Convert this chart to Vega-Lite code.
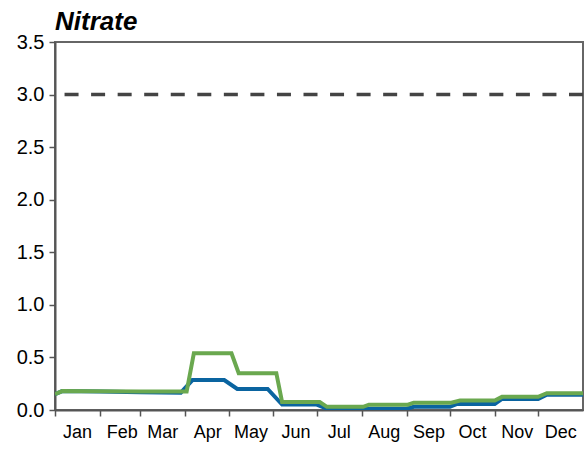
{
  "$schema": "https://vega.github.io/schema/vega-lite/v6.json",
  "autosize": {"type": "none"},
  "padding": {"left": 55, "top": 42, "right": 2, "bottom": 39},
  "width": 528,
  "height": 368,
  "background": "white",
  "config": {
    "font": "Liberation Sans",
    "view": {"stroke": "#666666", "strokeWidth": 2},
    "axis": {"grid": false, "domainColor": "#555555", "domainWidth": 2, "tickColor": "#555555", "tickWidth": 1.5, "labelColor": "#000000", "labelFont": "Liberation Sans", "title": null}
  },
  "title": {
    "text": "Nitrate",
    "anchor": "start",
    "frame": "group",
    "font": "Liberation Sans",
    "fontSize": 26,
    "fontWeight": "bold",
    "fontStyle": "italic",
    "color": "#000000",
    "offset": -3,
    "dx": 0
  },
  "datasets": {
    "series": [
      {"date": "2023-01-01", "series": "A", "value": 0.15},
      {"date": "2023-01-06", "series": "A", "value": 0.18},
      {"date": "2023-02-01", "series": "A", "value": 0.175},
      {"date": "2023-03-01", "series": "A", "value": 0.168},
      {"date": "2023-03-29", "series": "A", "value": 0.165},
      {"date": "2023-04-06", "series": "A", "value": 0.285},
      {"date": "2023-04-28", "series": "A", "value": 0.285},
      {"date": "2023-05-07", "series": "A", "value": 0.2},
      {"date": "2023-05-28", "series": "A", "value": 0.2},
      {"date": "2023-06-07", "series": "A", "value": 0.052},
      {"date": "2023-07-01", "series": "A", "value": 0.052},
      {"date": "2023-07-08", "series": "A", "value": 0.012},
      {"date": "2023-09-01", "series": "A", "value": 0.012},
      {"date": "2023-09-06", "series": "A", "value": 0.03},
      {"date": "2023-10-01", "series": "A", "value": 0.03},
      {"date": "2023-10-06", "series": "A", "value": 0.057},
      {"date": "2023-11-01", "series": "A", "value": 0.057},
      {"date": "2023-11-06", "series": "A", "value": 0.105},
      {"date": "2023-12-01", "series": "A", "value": 0.105},
      {"date": "2023-12-07", "series": "A", "value": 0.145},
      {"date": "2024-01-01", "series": "A", "value": 0.145},
      {"date": "2023-01-01", "series": "B", "value": 0.15},
      {"date": "2023-01-06", "series": "B", "value": 0.18},
      {"date": "2023-02-01", "series": "B", "value": 0.178},
      {"date": "2023-03-01", "series": "B", "value": 0.176},
      {"date": "2023-04-02", "series": "B", "value": 0.175},
      {"date": "2023-04-07", "series": "B", "value": 0.54},
      {"date": "2023-05-03", "series": "B", "value": 0.54},
      {"date": "2023-05-08", "series": "B", "value": 0.35},
      {"date": "2023-06-03", "series": "B", "value": 0.35},
      {"date": "2023-06-07", "series": "B", "value": 0.075},
      {"date": "2023-07-03", "series": "B", "value": 0.075},
      {"date": "2023-07-08", "series": "B", "value": 0.03},
      {"date": "2023-08-02", "series": "B", "value": 0.03},
      {"date": "2023-08-06", "series": "B", "value": 0.05},
      {"date": "2023-09-02", "series": "B", "value": 0.05},
      {"date": "2023-09-06", "series": "B", "value": 0.07},
      {"date": "2023-10-02", "series": "B", "value": 0.07},
      {"date": "2023-10-08", "series": "B", "value": 0.09},
      {"date": "2023-11-01", "series": "B", "value": 0.09},
      {"date": "2023-11-06", "series": "B", "value": 0.125},
      {"date": "2023-12-01", "series": "B", "value": 0.125},
      {"date": "2023-12-07", "series": "B", "value": 0.16},
      {"date": "2024-01-01", "series": "B", "value": 0.16}
    ],
    "limit": [{"limit": 3.0}]
  },
  "layer": [
    {
      "data": {"name": "limit"},
      "mark": {"type": "rule", "color": "#444444", "strokeWidth": 3.5, "strokeDash": [14, 12.55]},
      "encoding": {
        "y": {"field": "limit", "type": "quantitative", "scale": {"domain": [0, 3.5], "nice": false}}
      }
    },
    {
      "data": {"name": "series"},
      "mark": {"type": "line", "strokeWidth": 4, "strokeJoin": "miter", "clip": true},
      "encoding": {
        "x": {
          "field": "date",
          "type": "temporal",
          "scale": {"type": "utc", "domain": [{"year": 2023, "month": 1, "date": 1, "utc": true}, {"year": 2024, "month": 1, "date": 1, "utc": true}]},
          "axis": {
            "values": [
              {"year": 2023, "month": 1, "date": 1, "utc": true},
              {"year": 2023, "month": 2, "date": 1, "utc": true},
              {"year": 2023, "month": 3, "date": 1, "utc": true},
              {"year": 2023, "month": 4, "date": 1, "utc": true},
              {"year": 2023, "month": 5, "date": 1, "utc": true},
              {"year": 2023, "month": 6, "date": 1, "utc": true},
              {"year": 2023, "month": 7, "date": 1, "utc": true},
              {"year": 2023, "month": 8, "date": 1, "utc": true},
              {"year": 2023, "month": 9, "date": 1, "utc": true},
              {"year": 2023, "month": 10, "date": 1, "utc": true},
              {"year": 2023, "month": 11, "date": 1, "utc": true},
              {"year": 2023, "month": 12, "date": 1, "utc": true}
            ],
            "labelExpr": "utcFormat(datum.value, '%b')",
            "labelAlign": "center",
            "labelOffset": 22,
            "labelFontSize": 18,
            "labelPadding": 7,
            "tickSize": 6,
            "labelFlush": false,
            "labelOverlap": false
          }
        },
        "y": {
          "field": "value",
          "type": "quantitative",
          "scale": {"domain": [0, 3.5], "nice": false},
          "axis": {
            "values": [0, 0.5, 1, 1.5, 2, 2.5, 3, 3.5],
            "format": ".1f",
            "labelFontSize": 20,
            "labelPadding": 5,
            "tickSize": 6,
            "labelFlush": false,
            "labelOverlap": false
          }
        },
        "color": {
          "field": "series",
          "type": "nominal",
          "scale": {"domain": ["A", "B"], "range": ["#0a64a0", "#6aa84f"]},
          "legend": null
        },
        "order": {"field": "date", "type": "temporal"}
      }
    }
  ]
}
